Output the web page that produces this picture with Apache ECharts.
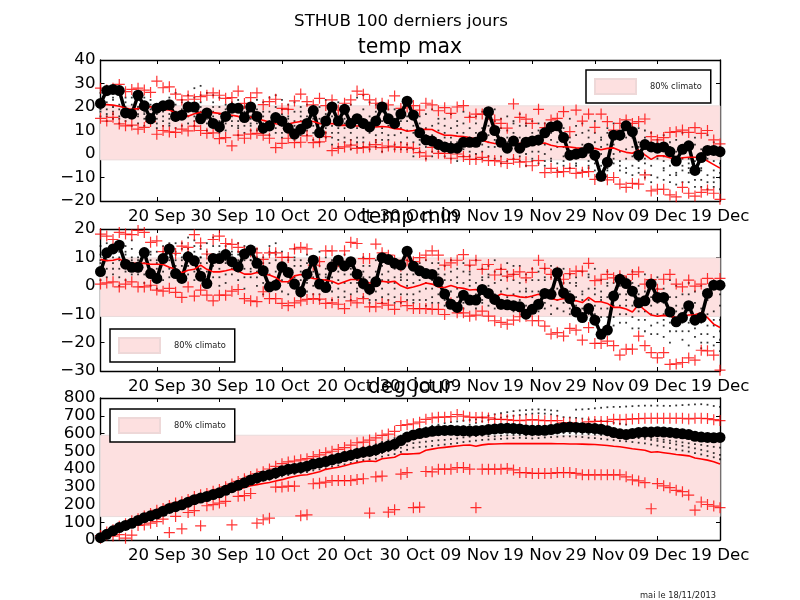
<!DOCTYPE html>
<html><head><meta charset="utf-8">
<style>html,body{margin:0;padding:0;background:#fff}#c{width:800px;height:600px}</style>
<script src="https://cdn.jsdelivr.net/npm/echarts@6/dist/echarts.min.js"></script>
</head><body><div id="c"></div>
<script>
const dates=["11 Sep","12 Sep","13 Sep","14 Sep","15 Sep","16 Sep","17 Sep","18 Sep","19 Sep","20 Sep","21 Sep","22 Sep","23 Sep","24 Sep","25 Sep","26 Sep","27 Sep","28 Sep","29 Sep","30 Sep","01 Oct","02 Oct","03 Oct","04 Oct","05 Oct","06 Oct","07 Oct","08 Oct","09 Oct","10 Oct","11 Oct","12 Oct","13 Oct","14 Oct","15 Oct","16 Oct","17 Oct","18 Oct","19 Oct","20 Oct","21 Oct","22 Oct","23 Oct","24 Oct","25 Oct","26 Oct","27 Oct","28 Oct","29 Oct","30 Oct","31 Oct","01 Nov","02 Nov","03 Nov","04 Nov","05 Nov","06 Nov","07 Nov","08 Nov","09 Nov","10 Nov","11 Nov","12 Nov","13 Nov","14 Nov","15 Nov","16 Nov","17 Nov","18 Nov","19 Nov","20 Nov","21 Nov","22 Nov","23 Nov","24 Nov","25 Nov","26 Nov","27 Nov","28 Nov","29 Nov","30 Nov","01 Dec","02 Dec","03 Dec","04 Dec","05 Dec","06 Dec","07 Dec","08 Dec","09 Dec","10 Dec","11 Dec","12 Dec","13 Dec","14 Dec","15 Dec","16 Dec","17 Dec","18 Dec","19 Dec"];

// temp max
const maxObs=[21.5,27,27.5,27,17.5,17,25,20.5,15,19.5,20.5,21,16,16.5,20,20,15,17.5,13,11.5,16,19.5,19.5,15.5,20,16,11,12,15.5,14,11,8.5,10.5,13,18.5,9,14,20,14,19,13,15,13,11.5,14,20,15,13,17,22.5,16.5,9,6,5.5,4,3,2.5,2.5,5,5,5,7.5,18,10,5,2.5,5.5,2.5,5,5.5,6,9,11.5,12,7,-0.5,0,0.5,2.5,-0.5,-9.5,-3.5,8,8,12,9.5,-0.5,4,3,2.5,3,1,-3,2,3.5,-7,-1.5,1.5,1.5,1];
const maxClim=[21,21,20.8,20.3,19.6,18.9,19.3,19.9,20.1,19.6,19,18.7,17.6,16.8,16.1,17.1,17.7,17.9,17.6,17.3,16.9,16.5,16,14.4,15.7,15.3,14.3,13.6,12.9,12.6,12.8,13.4,13.8,14,13.8,13,12.7,13,12.2,12.3,12,11.9,11.9,11.9,11.5,11.7,11.5,10.8,10.6,9.7,10,10.4,10.5,10.4,9,8,8,7.6,7.4,7,6.4,5.8,5,4.5,4.2,3.8,4,4.6,4.8,4,4.3,4.7,3.7,3.2,3.1,3,2.6,2.4,2.5,2.4,1.8,2.4,2.6,1.5,0.7,0.3,1.7,-0.4,-2.3,-0.8,-0.8,-1.6,-2.3,-1.6,-1.4,-1.4,-1.5,-3,-4.5,-6];
const maxUp=[28,27.2,28,29.6,26.5,27.5,28,27.2,26.2,31,28.2,28.6,25.5,23,24.7,23.3,24.4,25,26,25,23.7,24,26.8,21.5,24,26,21,22.3,23.3,19.4,19,22.6,25.5,22.3,20.9,23.7,20.6,23,18.7,21.6,23,26.8,25.4,23,21.6,21.6,20.9,24.7,19.4,20,20.6,18.7,21.6,20.9,18.4,19.7,17.3,20,20.6,15.6,17,17,17,14.5,13,11,21.3,15.6,14.8,13,19,11.2,14.5,15.2,18,9.5,18.7,14,17,11.3,17,13.8,10.2,13,14.5,13,13.8,14.9,7.4,6,7,9.2,9.5,10.2,9.2,11.2,8.8,10,6,4.3];
const maxLow=[15.2,14,15.6,12.8,12,12.3,10.6,11.3,13.8,8.4,10,9.4,9.2,10.6,9.8,11.9,10,8.8,9,6.5,7,3.5,8,6.7,8.5,8.8,8,6.7,2.7,4.5,6.7,4.8,5,7.7,4.8,5.2,7.4,1.4,2.4,3,3.8,2.4,2.7,3,4,2.7,3.4,3,2.8,2.8,2.4,0.6,-0.9,2.8,0.3,0.3,-1.8,0,-1.1,-2.3,-2.3,-1.4,-2.8,-2.8,-3.3,-4,-2.3,-3.5,-3.3,-5,-2.8,-7.9,-6.1,-7.8,-7.5,-6.1,-8.2,-7.8,-7.5,-10.8,-9.6,-11,-10,-12.8,-14.2,-12.5,-12.8,-8.9,-15.7,-15,-15,-17.4,-18.2,-14.2,-16.7,-17.9,-16.3,-15.3,-16.7,-19.3];
const maxDots1=[26,25,24,26,22,21,23,24,21,20,22,24,26,23,25,28,29,26,22,24,21,20,23,18,21,19,22,24,25,23,19,22,18,21,16,20,23,19,22,15,21,24,25,22,18,20,16,19,17,14,18,13,17,19,15,12,17,14,18,16,13,18,15,19,11,16,13,17,12,14,10,13,9,14,11,15,8,13,10,14,7,11,13,6,12,9,11,7,9,5,8,3,6,9,4,7,2,8,5,3];
const maxDots2=[23,22,20,19,24,18,20,18,23,17,19,17,21,19,16,24,22,18,25,20,15,22,14,20,16,23,13,18,20,17,21,14,20,13,18,15,17,12,14,18,9,16,19,13,21,14,19,11,14,16,9,16,11,12,10,15,7,12,9,11,16,8,12,10,15,5,14,7,13,6,13,4,11,3,8,5,12,4,7,9,3,9,4,10,2,7,3,10,2,6,-1,5,1,3,-2,4,-1,2,-3,1];
const maxDots3=[20,19,23,16,18,24,16,21,15,18,14,20,16,22,18,19,25,15,16,14,19,12,18,15,12,17,18,11,14,19,13,18,10,16,12,8,14,16,9,11,14,7,11,16,8,11,6,15,9,10,12,6,8,4,13,7,11,5,13,6,9,11,5,14,4,10,6,12,3,9,1,8,2,11,-1,7,1,9,-3,5,0,4,-2,1,7,-1,5,-4,4,-2,-6,1,-4,-2,-8,-3,-6,-2,-7,-4];
const maxDots4=[18,16,17,21,14,16,13,15,19,13,16,12,14,15,13,14,18,13,20,11,13,16,11,12,15,10,12,14,9,12,16,10,14,8,15,11,7,9,6,13,4,11,5,9,3,6,12,4,2,7,2,10,3,8,1,4,-2,9,2,-1,5,1,8,-2,7,1,9,-1,6,-3,4,-5,6,-4,3,-2,-5,1,-6,-1,-5,-3,0,-7,-2,-5,-8,-2,-9,-1,-11,-5,-9,-7,-4,-11,-7,-12,-10,-8];
const maxDots5=[16,14,15,13,16,12,17,12,14,11,12,15,11,12,20,12,15,10,13,9,10,14,8,9,10,13,9,8,16,7,10,6,8,11,6,5,9,4,3,7,2,5,3,2,6,1,3,8,5,2,-1,4,-2,1,6,-1,2,-3,5,1,-2,4,-1,3,-4,7,-2,3,-5,1,-4,0,-3,-7,-5,-6,-2,-7,3,-7,-8,-6,-4,-3,-8,-9,-3,-8,-5,-10,-3,-12,-13,-5,-12,-14,-11,-9,-14,-15];
const maxDots6=[19,17,18,15,20,15,19,17,17,15,18,13,18,17,22,16,20,17,18,17,16,18,12,14,13,15,16,10,11,9,15,12,16,10,9,13,11,7,11,5,6,3,7,4,5,9,8,2,11,4,5,1,5,-1,3,9,5,1,-1,7,0,-2,3,6,-1,-3,4,-3,0,-2,7,-3,-2,5,-3,1,-4,-1,-5,-4,6,-7,8,-5,-6,3,-6,-10,-12,2,-7,-9,-8,-12,-6,-8,-14,-15,-12,-10];
const maxBand=[-2.5,20.5];

// temp min
const minObs=[5,11.6,13,14.3,7.6,6.5,6.5,11.7,4.3,2.6,9.6,13,4.3,2.6,10.2,8.8,3.4,0.8,9.6,9.6,11,8.5,6.7,11.2,12.6,7.9,5.3,-0.4,0.2,6.7,4.7,0.6,-2.1,4.1,9,0.6,-0.6,6.7,9,7,8.5,4.1,0.8,-1.2,1.4,9.9,9.3,7.9,7.3,12.2,6.9,5.3,4.3,4,1.4,-2.9,-6.5,-7.6,-3.3,-5,-5,-1.3,-2.7,-4.8,-6.5,-6.7,-7,-7.4,-10,-8.3,-6.5,-2.7,-3,4.6,-2.5,-4.5,-9.2,-11.2,-8,-12.1,-17.1,-15.6,-3.6,2.3,0.8,-1.9,-6,-5.3,0.6,-4.1,-4.1,-9.2,-12.7,-11.2,-7,-12.1,-11.2,-2.7,0.2,0.2];
const minClim=[9.3,8.8,9,9.5,8.2,7.9,7.9,7.9,7.6,7.6,7.5,6.5,5.8,4.6,5.5,5.8,7.3,5.8,4.9,4.9,5.3,5.8,5.2,4.1,4.1,4.7,4.1,3.8,2.9,1.4,1.4,3.5,4,3.2,2.6,2.2,2,1.6,0.6,1.4,2.2,2.2,1.4,1,1,1.6,1.3,1.6,0,-0.9,-0.4,0.2,1,0.6,-0.4,-0.6,0.1,-0.6,-0.9,-1.5,-1.3,-2.5,-4.1,-4.1,-2.9,-3.4,-3.4,-3.9,-4.1,-3.6,-3,-3.6,-4.5,-5,-4.5,-5,-5.3,-5.9,-4.1,-5.6,-5.6,-6.2,-7.6,-7.6,-8.2,-9.2,-6.6,-8.6,-10.3,-10.7,-10.4,-10.7,-11.2,-10.7,-10.3,-10.2,-9.5,-11.2,-13.5,-14.7];
const minUp=[18.2,17.5,16.3,18.8,18.2,18,19.5,18.8,15.3,15.8,12,13,11.4,14,13.5,18,15.1,11.2,16.3,17.5,14.9,14.6,13.5,12,12,11.6,9.3,11.6,11.6,10,10,13,13.5,13,7.3,8.5,12.3,12.3,8.5,12.3,15.3,14.9,9.6,9.6,14.7,11.6,10.8,9,6.9,9,8.5,9.9,10.8,12.3,10.8,7.3,8.1,9,11,7.3,9,5.8,7.5,3.8,5.8,3.4,4,4.9,2.8,4.7,9,6.1,4,4.9,2.3,4.3,5.2,5.2,7.9,1.8,2.3,4,2.8,3.5,1.8,4,4.9,0.6,2.2,-1.2,2.3,4,0.6,-0.4,2,-0.1,0.6,2.6,0.6,2.6];
const minLow=[0.6,1,1.4,-0.4,0.6,1.4,-0.4,-0.4,0.2,-1.5,-1.9,-0.9,-2.3,-4.1,-0.4,-3.6,-1.5,-3.3,-5.3,-3.3,-3.3,-1.9,-1.3,-4.5,-5.3,-5.6,-2.1,-4.5,-4.5,-6.2,-7,-6,-5.3,-4.8,-4.5,-4.7,-6.2,-6,-6.5,-8,-5.3,-6,-4.5,-7.4,-7.4,-6.2,-6.8,-8.3,-5.6,-7,-8,-8,-8,-8.3,-8.3,-10.1,-6,-9.5,-9.5,-10.7,-10.3,-8.9,-10.7,-12.3,-12.9,-13.5,-12.1,-10.9,-10.7,-12.3,-12.3,-14.2,-17,-16.5,-17.7,-15,-15.6,-19.1,-14.7,-20.3,-20.3,-19.5,-21.1,-24.4,-22.3,-22.3,-17.7,-21.1,-23.5,-25.4,-23.5,-27.7,-27.5,-27,-25.4,-26.2,-22.7,-22.9,-24.4,-29.7];
const minDots1=[14,15,13,12,14,16,10,11,9,12,14,15,12,13,17,16,13,15,17,12,14,11,15,12,9,13,10,11,15,12,10,13,9,11,7,12,10,6,9,11,8,5,10,7,9,4,8,6,3,9,7,5,9,8,4,7,9,6,8,5,9,3,7,9,6,8,4,7,2,6,5,3,7,2,6,4,1,5,3,6,2,5,1,4,3,5,0,4,1,3,-1,2,0,-3,1,-2,0,-4,-1,-3];
const minDots2=[11,12,10,9,11,13,7,8,12,9,11,12,9,15,13,12,10,11,14,9,11,8,12,9,6,10,7,14,12,8,6,10,5,8,9,7,3,9,5,7,4,2,7,3,5,7,2,3,6,2,4,8,3,5,8,2,5,3,5,7,1,6,4,5,2,5,7,1,4,2,2,6,-1,4,1,-2,3,-2,4,-1,-4,1,-3,0,-3,1,-5,-2,-4,-1,-6,-4,-7,-8,-3,-6,-8,-5,-9,-7];
const minDots3=[8,9,12,6,8,10,4,10,6,6,8,9,15,10,10,9,14,8,11,6,8,12,9,6,13,7,4,8,9,5,9,7,2,5,3,4,6,1,2,4,1,5,3,0,2,-1,5,-1,2,4,1,2,-1,2,1,-2,2,-1,1,4,-3,2,0,1,-2,3,-3,-2,-1,-4,-2,2,-4,-1,-3,-5,0,-5,-1,-7,-2,-4,-7,-3,-7,-3,-9,-6,-10,-6,-10,-9,-4,-13,-8,-11,-13,-10,-14,-12];
const minDots4=[5,6,8,3,5,7,9,4,3,3,5,6,11,7,7,5,10,5,7,3,4,8,5,3,9,3,1,4,5,2,4,3,-1,1,0,0,2,-2,-1,1,-3,1,-1,-3,-2,-4,1,-4,-3,0,-3,-2,-5,-1,-3,-5,-2,-4,-3,0,-6,-2,-4,-3,-5,-1,-6,-5,-4,-7,-6,-3,-7,-5,-6,-8,-4,-8,-5,-10,-5,-8,-11,-7,-10,-7,-12,-9,-14,-10,-14,-13,-9,-16,-13,-15,-17,-14,-18,-16];
const minDots5=[2,3,4,0,2,4,5,1,0,-1,2,3,7,4,4,2,6,2,3,0,1,4,2,-1,5,0,-3,1,2,-2,1,-1,-4,-2,-3,-3,-1,-5,-4,-2,-5,-2,-4,-6,-5,-6,-3,-6,-6,-3,-6,-5,-7,-4,-6,-7,-5,-7,-6,-4,-8,-5,-7,-6,-8,-4,-9,-7,-7,-9,-9,-6,-10,-8,-9,-10,-7,-11,-8,-13,-8,-11,-14,-10,-13,-11,-15,-12,-17,-13,-18,-16,-13,-19,-16,-18,-20,-17,-21,-19];
const minDots6=[9,11,6,10,12,9,7,13,11,8,12,10,5,9,12,14,8,12,10,14,9,6,11,14,3,5,8,12,11,8,-3,9,7,2,5,-5,4,3,7,-4,6,-1,5,-5,1,2,-5,1,4,-5,-5,6,1,-6,6,4,-7,1,-8,2,-4,-6,3,-8,4,-7,2,-9,-2,-2,-8,-8,3,-8,-3,1,-9,-3,-10,-3,-11,0,-5,-13,-5,-15,-3,-16,-7,-17,-12,-20,-16,-11,-21,-13,-22,-20,-12,-23];
const minBand=[-10.8,9.8];

// deg jour
const degObs=[13,32,52,70,82,94,110,126,136,147,162,178,188,198,213,227,236,245,256,266,280,295,308,322,338,350,360,368,378,390,398,403,408,416,428,434,442,452,460,470,478,488,495,500,508,520,530,540,560,580,592,600,606,612,616,617,618,616,615,614,615,617,622,626,628,630,628,626,620,618,618,618,622,628,634,636,634,632,630,628,624,616,605,598,594,600,606,608,608,610,608,606,602,598,594,584,580,578,576,578];
const degClim=[10,25,40,55,68,82,95,108,122,135,148,160,170,180,192,205,215,225,238,250,262,272,284,296,306,312,318,324,332,340,350,358,365,368,376,385,398,404,410,418,428,436,442,445,442,458,462,466,484,484,486,488,506,512,518,522,526,530,534,535,528,536,540,541,542,543,543,543,543,543,543,543,543,542,542,541,541,540,539,538,535,532,528,525,520,514,510,506,494,497,492,487,482,478,474,462,456,450,441,428];
const degUp=[25,45,58,78,92,108,120,135,150,167,178,195,208,215,228,245,255,262,275,285,300,315,330,345,358,372,385,400,415,430,440,445,452,458,470,480,492,500,510,521,535,548,552,563,575,590,597,612,645,650,655,664,680,688,692,692,695,707,698,692,690,692,688,680,680,678,674,672,675,678,675,672,672,672,660,660,655,655,665,668,668,668,680,678,680,682,684,686,686,686,686,686,686,686,682,686,686,684,678,673];
const degLow=[10,28,22,30,10,28,82,85,95,104,118,42,133,63,155,165,80,193,199,208,218,85,246,250,262,95,114,123,298,298,303,303,136,142,317,320,326,335,335,335,335,341,345,152,356,360,157,171,371,380,182,185,386,384,399,399,399,408,408,399,182,399,399,399,399,403,395,380,380,375,375,375,375,380,380,380,375,367,367,367,367,367,367,367,356,339,333,323,176,318,305,295,280,272,253,168,214,200,191,182];
const degDots1=[25,45,62,78,90,104,118,132,144,157,170,184,198,208,222,236,246,256,266,278,290,304,318,332,348,362,372,382,392,402,414,420,428,436,448,456,466,476,486,496,504,514,524,530,540,552,562,574,588,600,614,624,634,644,650,658,664,668,672,676,680,690,700,708,714,720,726,730,732,735,736,734,730,728,null,null,734,736,738,742,745,748,750,750,752,754,756,757,757,757,756,756,758,760,762,764,765,762,755,750];
const degDots2=[18,36,54,70,84,98,112,126,138,151,165,180,192,202,216,230,240,250,260,272,284,298,312,326,342,354,364,372,382,394,404,410,416,424,434,442,450,460,468,478,486,496,502,508,516,528,538,548,560,574,592,604,612,618,622,626,630,634,640,650,660,668,676,684,690,696,700,704,708,712,714,712,708,700,692,690,688,684,680,676,672,668,660,655,650,590,585,580,576,570,565,560,555,550,545,540,536,530,525,520];
const degDots3=[8,26,44,60,72,86,100,114,126,138,152,168,178,188,200,214,224,232,244,254,268,282,296,308,324,336,346,352,360,370,380,386,392,398,408,414,420,430,436,444,452,462,468,472,478,490,500,508,520,534,546,550,554,558,562,564,568,572,578,582,586,588,585,584,588,590,592,592,590,590,594,596,598,600,602,602,600,598,596,594,592,590,586,582,580,578,574,570,564,558,552,546,538,530,522,516,508,500,490,480];
const degDots4=[5,20,38,52,66,78,92,106,118,130,144,158,168,178,190,204,214,222,234,244,258,272,286,298,312,324,334,340,348,358,366,372,378,382,392,398,404,414,420,426,434,444,450,454,458,470,478,484,496,508,520,524,526,530,534,538,542,546,552,556,560,564,566,568,570,572,574,576,574,572,574,578,580,582,584,584,582,580,576,574,570,566,562,558,556,552,548,544,538,532,524,518,510,504,498,490,482,474,466,455];
const degBand=[132,590];

const titles=["temp max","temp min","deg jour"];
const legendName="80% climato";
const FONT="DejaVu Sans";
const PLUS="path://M4.45 0H5.55V4.45H10V5.55H5.55V10H4.45V5.55H0V4.45H4.45Z";
const panels=[
 {top:60,h:141,min:-20,max:40,iv:10,obs:maxObs,clim:maxClim,up:maxUp,low:maxLow,dots:[maxDots1,maxDots2,maxDots3,maxDots4,maxDots5,maxDots6],band:maxBand,lg:{left:586,top:70}},
 {top:229,h:142,min:-30,max:20,iv:10,obs:minObs,clim:minClim,up:minUp,low:minLow,dots:[minDots1,minDots2,minDots3,minDots4,minDots5,minDots6],band:minBand,lg:{left:110,top:329}},
 {top:398,h:142,min:0,max:800,iv:100,obs:degObs,clim:degClim,up:degUp,low:degLow,dots:[degDots1,degDots2,degDots3,degDots4],band:degBand,lg:{left:110,top:409}}
];
const isTick=i=>i%10===9;
const grid=[],xAxis=[],yAxis=[],series=[],legend=[];
panels.forEach((p,k)=>{
 grid.push({left:100.5,width:619.5,top:p.top,height:p.h,containLabel:false});
 const lineS={show:true,onZero:false,lineStyle:{color:'#000',width:1.4}};
 const tick={show:true,inside:true,length:4,interval:(i)=>isTick(i),lineStyle:{color:'#000',width:1}};
 xAxis.push({type:'category',gridIndex:k,data:dates,boundaryGap:false,position:'bottom',axisLine:lineS,axisTick:tick,
   axisLabel:{show:true,interval:(i)=>isTick(i),color:'#000',fontFamily:FONT,fontSize:16.67,margin:7,hideOverlap:false},splitLine:{show:false}});
 xAxis.push({type:'category',gridIndex:k,data:dates,boundaryGap:false,position:'top',axisLine:lineS,axisTick:tick,axisLabel:{show:false},splitLine:{show:false}});
 const ytick={show:true,inside:true,length:4,lineStyle:{color:'#000',width:1}};
 yAxis.push({type:'value',gridIndex:k,min:p.min,max:p.max,interval:p.iv,position:'left',axisLine:lineS,axisTick:ytick,splitLine:{show:false},
   axisLabel:{color:'#000',fontFamily:FONT,fontSize:16.67,margin:5,showMinLabel:true,showMaxLabel:true,formatter:v=>String(v).replace('-','\u2212')}});
 yAxis.push({type:'value',gridIndex:k,min:p.min,max:p.max,interval:p.iv,position:'right',axisLine:lineS,axisTick:ytick,splitLine:{show:false},axisLabel:{show:false}});
 const xi=k*2,yi=k*2;
 series.push({type:'line',name:legendName,xAxisIndex:xi,yAxisIndex:yi,data:[],silent:true,symbol:'none',
   itemStyle:{color:'#fde0e0',borderColor:'#eed8d8',borderWidth:1},lineStyle:{color:'#fde0e0'},
   markArea:{silent:true,itemStyle:{color:'#fde0e0',borderColor:'#eadcdc',borderWidth:1},data:[[{yAxis:p.band[1]},{yAxis:p.band[0]}]]}});
 p.dots.forEach(d=>series.push({type:'scatter',xAxisIndex:xi,yAxisIndex:yi,data:d,symbol:'rect',symbolSize:1.8,silent:true,itemStyle:{color:'#000'}}));
 series.push({type:'line',xAxisIndex:xi,yAxisIndex:yi,data:p.obs,symbol:'circle',symbolSize:11,showSymbol:true,showAllSymbol:true,silent:true,itemStyle:{color:'#000'},lineStyle:{color:'#000',width:3.5}});
 [p.up,p.low].forEach(d=>series.push({type:'scatter',xAxisIndex:xi,yAxisIndex:yi,data:d,symbol:PLUS,symbolSize:11,silent:true,itemStyle:{color:'#ff0000'}}));
 series.push({type:'line',xAxisIndex:xi,yAxisIndex:yi,data:p.clim,symbol:'none',silent:true,lineStyle:{color:'#ff0000',width:1.6}});
 legend.push({show:true,left:p.lg.left,top:p.lg.top,data:[{name:legendName,icon:'rect'}],selectedMode:false,orient:'horizontal',
   padding:[8,9,8,8],itemWidth:41,itemHeight:15,borderColor:'#000',borderWidth:1.5,backgroundColor:'#fff',
   textStyle:{fontFamily:FONT,fontSize:8.3,color:'#222',padding:[7,0,0,9]}});
});
const title=[{text:"STHUB 100 derniers jours",left:396,top:8,textAlign:'center',textStyle:{fontFamily:FONT,fontSize:16.67,fontWeight:'normal',color:'#000'}}];
titles.forEach((t,k)=>title.push({text:t,left:405,top:[33,203,373][k],textAlign:'center',textStyle:{fontFamily:FONT,fontSize:20.4,fontWeight:'normal',color:'#000'}}));
title.push({text:"mai le 18/11/2013",left:635,top:587,textStyle:{fontFamily:FONT,fontSize:8.3,fontWeight:'normal',color:'#222'}});
const chart=echarts.init(document.getElementById('c'),null,{renderer:'canvas'});
chart.setOption({animation:false,backgroundColor:'#fff',tooltip:{show:false},title,grid,xAxis,yAxis,series,legend});
</script></body></html>
